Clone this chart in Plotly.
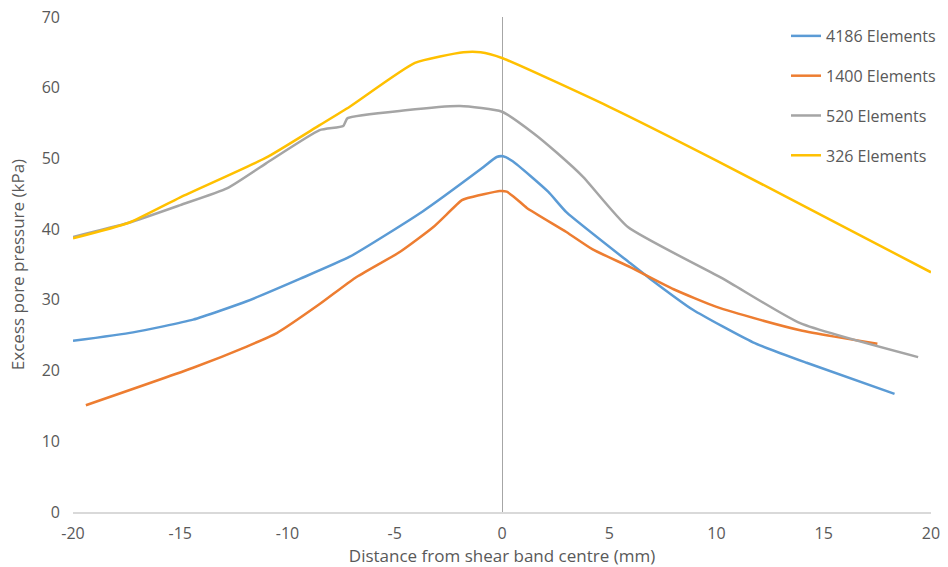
import plotly.graph_objects as go

# Distance from shear band centre (mm) and excess pore pressure (kPa) per mesh
x_4186 = [-20, -17.2, -14.4, -11.9, -9.4, -7.1, -3.7, -0.94, -0.25, 0.05, 0.5, 2.15, 3.0,
          5.97, 6.9, 8.9, 11.7, 14.2, 18.3]
y_4186 = [24.2, 25.4, 27.2, 29.8, 33.0, 36.1, 42.5, 48.6, 50.2, 50.3, 49.6, 45.3, 42.4,
          35.2, 33.0, 28.6, 24.0, 21.1, 16.7]

x_1400 = [-19.4, -14.4, -11.9, -10.5, -8.5, -6.85, -4.75, -3.2, -1.87, -1.6, -0.1, 0.22,
          0.7, 1.16, 3.0, 4.25, 6.0, 8.0, 10.0, 12.0, 13.9, 15.5, 17.5]
y_1400 = [15.1, 20.4, 23.4, 25.3, 29.4, 33.1, 36.8, 40.3, 44.1, 44.4, 45.4, 45.3,
          44.2, 43.0, 39.6, 37.1, 34.6, 31.5, 29.0, 27.2, 25.7, 24.8, 23.8]

x_520 = [-20, -17.4, -15, -12.8, -11, -8.5, -7.4, -7.2, -4.5, -1.96, 0, 1.45, 2.56,
         3.78, 5.87, 10.3, 13.9, 19.4]
y_520 = [38.9, 40.9, 43.4, 45.8, 49.3, 54.0, 54.6, 55.7, 56.8, 57.4, 56.6, 53.6, 50.8,
         47.4, 40.3, 33.0, 26.7, 21.9]

x_326 = [-20, -17.4, -15, -11, -8.5, -7.1, -4.06, -1.8, -1.0, 0, 5, 10, 15, 20]
y_326 = [38.7, 40.9, 44.5, 50.1, 54.7, 57.3, 63.5, 65.0, 65.0, 64.2, 57.3, 49.7, 41.8, 33.9]

series = [
    ("4186 Elements", x_4186, y_4186, "#5B9BD5"),
    ("1400 Elements", x_1400, y_1400, "#ED7D31"),
    ("520 Elements", x_520, y_520, "#A5A5A5"),
    ("326 Elements", x_326, y_326, "#FFC000"),
]

x_ticks = [-20, -15, -10, -5, 0, 5, 10, 15, 20]
x_ticktext = ["-20", "-15", "-10", "-5", "0", "5", "10", "15", "20"]
y_ticks = [0, 10, 20, 30, 40, 50, 60, 70]

FONT = "Open Sans, Liberation Sans, sans-serif"
TEXT = "#595959"

fig = go.Figure()
for i, (name, xs, ys, color) in enumerate(series):
    fig.add_trace(go.Scatter(
        x=xs, y=ys, mode="lines", name=name, legendgroup=f"g{i}",
        line=dict(color=color, width=2.5, shape="spline", smoothing=0.5),
    ))

fig.update_layout(
    width=948, height=567,
    margin=dict(l=73, r=17, t=17, b=55, autoexpand=False),
    paper_bgcolor="white", plot_bgcolor="white",
    font=dict(family=FONT, color=TEXT, size=16),
    legend=dict(
        x=0.831, y=0.996, xanchor="left", yanchor="top",
        font=dict(family=FONT, size=16, color=TEXT),
        tracegroupgap=16, bgcolor="rgba(0,0,0,0)",
    ),
    xaxis=dict(
        range=[-20, 20], tickvals=x_ticks, ticktext=x_ticktext, showgrid=False,
        showline=True, linecolor="#D9D9D9", linewidth=1.5,
        zeroline=True, zerolinecolor="#A6A6A6", zerolinewidth=1.2,
        ticks="", ticklabelstandoff=6, tickfont=dict(size=16, color=TEXT),
        title=dict(text="Distance from shear band centre (mm)",
                   font=dict(size=17, color=TEXT), standoff=0),
    ),
    yaxis=dict(
        range=[0, 70], tickvals=y_ticks, showgrid=False,
        showline=False, zeroline=False, ticks="", ticklabelstandoff=12,
        tickfont=dict(size=16, color=TEXT),
        title=dict(text="Excess pore pressure (kPa)",
                   font=dict(size=17, color=TEXT), standoff=12),
    ),
)

fig.write_html("out.html")
